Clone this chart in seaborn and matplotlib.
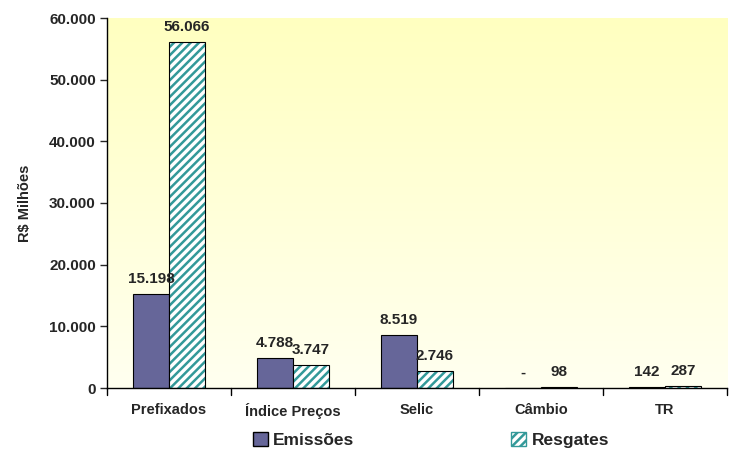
import matplotlib
matplotlib.use("Agg")
import matplotlib.pyplot as plt
import seaborn as sns
import numpy as np
import pandas as pd
from matplotlib.patches import Patch, Rectangle
from matplotlib.colors import LinearSegmentedColormap

categories = ["Prefixados", "Índice Preços", "Selic", "Câmbio", "TR"]
emissoes = [15198, 4788, 8519, 0, 142]
resgates = [56066, 3747, 2746, 98, 287]
series_names = ["Emissões", "Resgates"]
yticks = [0, 10000, 20000, 30000, 40000, 50000, 60000]

TEAL = "#339999"
PURPLE = "#666699"

def fmt(v):
    if v == 0:
        return "-"
    return f"{v:,.0f}".replace(",", ".")

df = pd.DataFrame({
    "cat": categories * 2,
    "serie": [series_names[0]] * len(categories) + [series_names[1]] * len(categories),
    "val": emissoes + resgates,
})

sns.set_style("white")
plt.rcParams['font.family'] = ['Liberation Sans', 'DejaVu Sans']
plt.rcParams['hatch.linewidth'] = 1.8

fig = plt.figure(figsize=(7.29, 4.55), dpi=100)
ax = fig.add_axes([107/729, 1 - 388/455, (727-107)/729, (388-18)/455])

# gradient background
grad = np.linspace(0, 1, 256).reshape(-1, 1)
cmap = LinearSegmentedColormap.from_list("bg", ["#FFFFF0", "#FFFFC0"])
ax.imshow(grad, extent=[-0.5, 4.5, 0, 60000], origin="lower", aspect="auto", cmap=cmap, zorder=0)

sns.barplot(data=df, x="cat", y="val", hue="serie", ax=ax,
            palette=[PURPLE, "#FFFFFF"], width=0.58, saturation=1,
            edgecolor="black", linewidth=0.8, legend=False, zorder=2)

for bar in ax.containers[1]:
    bar.set_hatch("////")
    bar.set_edgecolor(TEAL)
    bar.set_linewidth(0)
    ax.add_patch(Rectangle((bar.get_x(), bar.get_y()), bar.get_width(), bar.get_height(),
                           fill=False, edgecolor="black", linewidth=0.8, zorder=3))

for ci, vals in enumerate([emissoes, resgates]):
    for bar, v in zip(ax.containers[ci], vals):
        x = bar.get_x() + bar.get_width() / 2
        ax.annotate(fmt(v), (x, bar.get_height()), xytext=(0, 6), textcoords="offset points",
                    ha="center", va="bottom", fontsize=11, fontweight="bold")

ax.set_xlim(-0.5, 4.5)
ax.set_ylim(0, 60000)
ax.set_yticks(yticks)
ax.set_yticklabels([fmt(v) if v else "0" for v in yticks], fontsize=11, fontweight="bold")
ax.set_xticks(range(len(categories)))
ax.set_xticklabels(categories, fontsize=10.5, fontweight="bold")
ax.tick_params(axis="x", length=0, pad=11)
ax.tick_params(axis="y", length=5, width=1, direction="out", left=True, pad=3)
for b in np.arange(-0.5, 5.0, 1.0):
    ax.plot([b, b], [0, -0.018], transform=ax.get_xaxis_transform(), color="black", lw=1, clip_on=False)
ax.set_xlabel("")
ax.set_ylabel("R$ Milhões", fontsize=10.5, fontweight="bold", labelpad=12)

for s in ["top", "right"]:
    ax.spines[s].set_visible(False)
ax.spines["left"].set_color("black")
ax.spines["bottom"].set_color("black")
ax.spines["left"].set_linewidth(1)
ax.spines["bottom"].set_linewidth(1)

handles = [Patch(facecolor=PURPLE, edgecolor="black", label=series_names[0]),
           Patch(facecolor="white", edgecolor=TEAL, hatch="////", label=series_names[1])]
leg = fig.legend(handles=handles, loc="center", bbox_to_anchor=(0.591, 1 - 440/455), ncol=2,
                 frameon=False, prop={"weight": "bold", "size": 12.5},
                 columnspacing=9.0, handlelength=0.9, handleheight=0.9, handletextpad=0.3)

fig.savefig("out.png", dpi=100)
